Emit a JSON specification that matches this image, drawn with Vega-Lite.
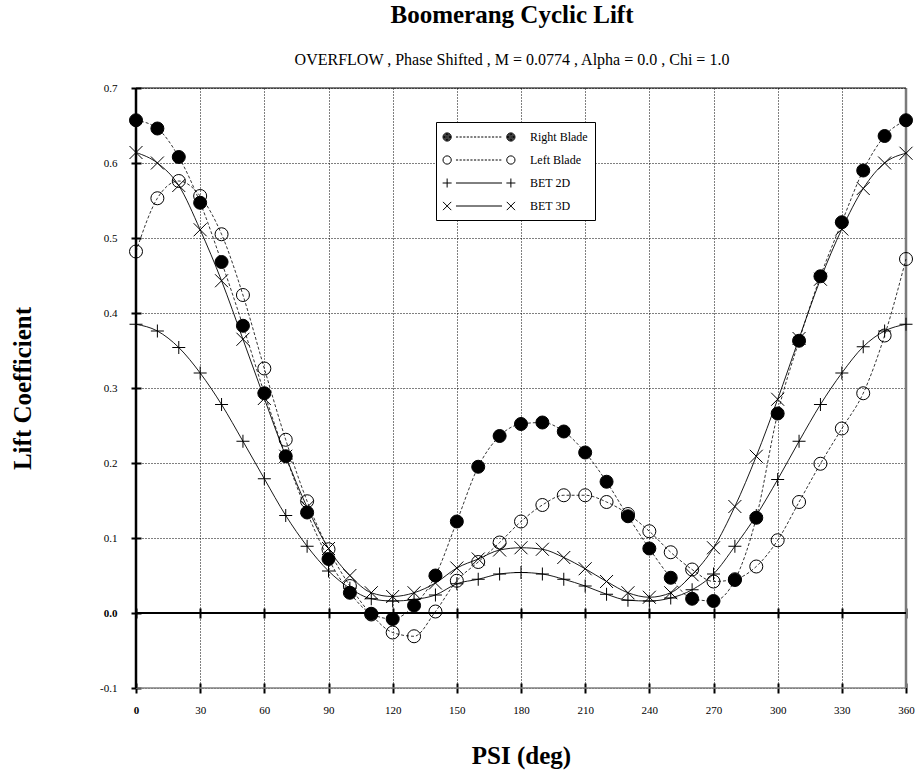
{
  "$schema": "https://vega.github.io/schema/vega-lite/v6.json",
  "width": 770,
  "height": 600,
  "autosize": {"type": "none"},
  "padding": {"left": 136, "top": 88, "right": 11, "bottom": 89},
  "background": "white",
  "config": {"view": {"stroke": null}, "font": "Liberation Serif"},
  "title": {
    "text": "Boomerang Cyclic Lift",
    "subtitle": "OVERFLOW , Phase Shifted , M = 0.0774 , Alpha = 0.0 , Chi = 1.0",
    "font": "Liberation Serif", "fontSize": 25, "fontWeight": "bold", "color": "black",
    "subtitleFont": "Liberation Serif", "subtitleFontSize": 16, "subtitleColor": "black",
    "subtitlePadding": 24, "offset": 14, "anchor": "middle", "dx": -9
  },
  "data": {"values": [
    {"psi": 0, "Right Blade": 0.657, "Left Blade": 0.482, "BET 2D": 0.385, "BET 3D": 0.614},
    {"psi": 10, "Right Blade": 0.646, "Left Blade": 0.553, "BET 2D": 0.376, "BET 3D": 0.600},
    {"psi": 20, "Right Blade": 0.608, "Left Blade": 0.576, "BET 2D": 0.354, "BET 3D": 0.570},
    {"psi": 30, "Right Blade": 0.547, "Left Blade": 0.556, "BET 2D": 0.320, "BET 3D": 0.511},
    {"psi": 40, "Right Blade": 0.468, "Left Blade": 0.505, "BET 2D": 0.278, "BET 3D": 0.443},
    {"psi": 50, "Right Blade": 0.383, "Left Blade": 0.424, "BET 2D": 0.229, "BET 3D": 0.365},
    {"psi": 60, "Right Blade": 0.293, "Left Blade": 0.326, "BET 2D": 0.179, "BET 3D": 0.286},
    {"psi": 70, "Right Blade": 0.209, "Left Blade": 0.231, "BET 2D": 0.130, "BET 3D": 0.209},
    {"psi": 80, "Right Blade": 0.134, "Left Blade": 0.149, "BET 2D": 0.089, "BET 3D": 0.141},
    {"psi": 90, "Right Blade": 0.072, "Left Blade": 0.085, "BET 2D": 0.056, "BET 3D": 0.086},
    {"psi": 100, "Right Blade": 0.027, "Left Blade": 0.036, "BET 2D": 0.033, "BET 3D": 0.050},
    {"psi": 110, "Right Blade": -0.001, "Left Blade": -0.002, "BET 2D": 0.019, "BET 3D": 0.027},
    {"psi": 120, "Right Blade": -0.008, "Left Blade": -0.026, "BET 2D": 0.016, "BET 3D": 0.022},
    {"psi": 130, "Right Blade": 0.010, "Left Blade": -0.031, "BET 2D": 0.018, "BET 3D": 0.027},
    {"psi": 140, "Right Blade": 0.050, "Left Blade": 0.002, "BET 2D": 0.024, "BET 3D": 0.040},
    {"psi": 150, "Right Blade": 0.122, "Left Blade": 0.043, "BET 2D": 0.039, "BET 3D": 0.060},
    {"psi": 160, "Right Blade": 0.195, "Left Blade": 0.068, "BET 2D": 0.045, "BET 3D": 0.072},
    {"psi": 170, "Right Blade": 0.236, "Left Blade": 0.094, "BET 2D": 0.052, "BET 3D": 0.084},
    {"psi": 180, "Right Blade": 0.252, "Left Blade": 0.122, "BET 2D": 0.054, "BET 3D": 0.087},
    {"psi": 190, "Right Blade": 0.254, "Left Blade": 0.144, "BET 2D": 0.052, "BET 3D": 0.085},
    {"psi": 200, "Right Blade": 0.242, "Left Blade": 0.157, "BET 2D": 0.045, "BET 3D": 0.074},
    {"psi": 210, "Right Blade": 0.214, "Left Blade": 0.157, "BET 2D": 0.036, "BET 3D": 0.059},
    {"psi": 220, "Right Blade": 0.175, "Left Blade": 0.148, "BET 2D": 0.025, "BET 3D": 0.042},
    {"psi": 230, "Right Blade": 0.129, "Left Blade": 0.132, "BET 2D": 0.017, "BET 3D": 0.027},
    {"psi": 240, "Right Blade": 0.086, "Left Blade": 0.109, "BET 2D": 0.016, "BET 3D": 0.021},
    {"psi": 250, "Right Blade": 0.047, "Left Blade": 0.081, "BET 2D": 0.020, "BET 3D": 0.027},
    {"psi": 260, "Right Blade": 0.019, "Left Blade": 0.058, "BET 2D": 0.031, "BET 3D": 0.051},
    {"psi": 270, "Right Blade": 0.016, "Left Blade": 0.042, "BET 2D": 0.052, "BET 3D": 0.087},
    {"psi": 280, "Right Blade": 0.044, "Left Blade": 0.045, "BET 2D": 0.089, "BET 3D": 0.142},
    {"psi": 290, "Right Blade": 0.127, "Left Blade": 0.062, "BET 2D": 0.130, "BET 3D": 0.209},
    {"psi": 300, "Right Blade": 0.266, "Left Blade": 0.097, "BET 2D": 0.178, "BET 3D": 0.285},
    {"psi": 310, "Right Blade": 0.363, "Left Blade": 0.148, "BET 2D": 0.229, "BET 3D": 0.366},
    {"psi": 320, "Right Blade": 0.449, "Left Blade": 0.199, "BET 2D": 0.278, "BET 3D": 0.445},
    {"psi": 330, "Right Blade": 0.521, "Left Blade": 0.246, "BET 2D": 0.320, "BET 3D": 0.512},
    {"psi": 340, "Right Blade": 0.590, "Left Blade": 0.293, "BET 2D": 0.355, "BET 3D": 0.566},
    {"psi": 350, "Right Blade": 0.636, "Left Blade": 0.370, "BET 2D": 0.376, "BET 3D": 0.600},
    {"psi": 360, "Right Blade": 0.657, "Left Blade": 0.472, "BET 2D": 0.385, "BET 3D": 0.613}
  ]},
  "transform": [{"fold": ["Right Blade", "Left Blade", "BET 2D", "BET 3D"], "as": ["series", "cl"]}],
  "resolve": {"axis": {"x": "independent", "y": "independent"}, "scale": {"shape": "independent"}},
  "layer": [
    {
      "data": {"values": [{}]},
      "mark": {"type": "rule", "color": "#808080", "strokeWidth": 1.5},
      "encoding": {"y": {"datum": -0.1, "type": "quantitative", "axis": null}}
    },
    {
      "data": {"values": [{}]},
      "mark": {"type": "rule", "color": "#7a7a7a", "strokeWidth": 2.5},
      "encoding": {"x": {"datum": 360, "type": "quantitative", "axis": null}}
    },
    {
      "data": {"values": [{}]},
      "mark": {"type": "rule", "color": "black", "strokeWidth": 1.2},
      "encoding": {"y": {"datum": 0.7, "type": "quantitative", "axis": null}}
    },
    {
      "data": {"values": [{}]},
      "mark": {"type": "rule", "color": "black", "strokeWidth": 2},
      "encoding": {"y": {"datum": 0, "type": "quantitative", "axis": null}}
    },
    {
      "data": {"values": [{}]},
      "mark": {"type": "rule", "color": "black", "strokeWidth": 2.5},
      "encoding": {"x": {"datum": 0, "type": "quantitative", "axis": null}}
    },
    {
      "transform": [{"filter": {"field": "series", "oneOf": ["Right Blade", "Left Blade"]}}],
      "mark": {"type": "line", "color": "black", "strokeWidth": 0.8, "strokeDash": [3, 2], "interpolate": "monotone"},
      "encoding": {
        "x": {"field": "psi", "type": "quantitative", "scale": {"domain": [0, 360], "nice": false, "zero": false}, "axis": null},
        "y": {"field": "cl", "type": "quantitative", "scale": {"domain": [-0.1, 0.7], "nice": false, "zero": false}, "axis": null},
        "detail": {"field": "series"}
      }
    },
    {
      "transform": [{"filter": {"field": "series", "oneOf": ["BET 2D", "BET 3D"]}}],
      "mark": {"type": "line", "color": "black", "strokeWidth": 0.9, "interpolate": "monotone"},
      "encoding": {
        "x": {"field": "psi", "type": "quantitative", "scale": {"domain": [0, 360], "nice": false, "zero": false},
          "axis": {"orient": "bottom", "offset": -80, "tickSize": 10, "tickWidth": 2, "tickColor": "black", "labels": false, "grid": false, "domain": false, "title": null,
            "values": [0, 30, 60, 90, 120, 150, 180, 210, 240, 270, 300, 330, 360]}},
        "y": {"field": "cl", "type": "quantitative", "axis": null},
        "detail": {"field": "series"}
      }
    },
    {
      "mark": {"type": "point", "size": 169, "strokeWidth": 1, "stroke": "black", "opacity": 1},
      "encoding": {
        "x": {"field": "psi", "type": "quantitative", "scale": {"domain": [0, 360], "nice": false, "zero": false},
          "axis": {"orient": "bottom", "offset": -5, "tickSize": 10, "tickWidth": 2, "tickColor": "black", "domain": false,
            "grid": true, "gridColor": "black", "gridDash": [1, 2], "gridWidth": 1,
            "values": [0, 30, 60, 90, 120, 150, 180, 210, 240, 270, 300, 330, 360],
            "labelFont": "Liberation Serif", "labelFontSize": 11, "labelColor": "black", "labelPadding": 11, "labelFlush": false, "labelOverlap": false,
            "labelFontWeight": {"condition": {"test": "datum.value === 0", "value": "bold"}, "value": "normal"},
            "title": "PSI (deg)", "titleFont": "Liberation Serif", "titleFontSize": 25, "titleFontWeight": "bold", "titleColor": "black", "titlePadding": 28}},
        "y": {"field": "cl", "type": "quantitative", "scale": {"domain": [-0.1, 0.7], "nice": false, "zero": false},
          "axis": {"orient": "left", "offset": -5, "tickSize": 10, "tickWidth": 2, "tickColor": "black", "domain": false,
            "grid": true, "gridColor": "black", "gridDash": [1, 2], "gridWidth": 1,
            "values": [-0.1, 0, 0.1, 0.2, 0.3, 0.4, 0.5, 0.6, 0.7],
            "labelExpr": "datum.value < 0 ? '-' + format(-datum.value, '.1f') : format(datum.value, '.1f')",
            "labelFont": "Liberation Serif", "labelFontSize": 11, "labelColor": "black", "labelPadding": 14, "labelFlush": false, "labelOverlap": false,
            "labelFontWeight": {"condition": {"test": "datum.value === 0", "value": "bold"}, "value": "normal"},
            "title": "Lift Coefficient", "titleFont": "Liberation Serif", "titleFontSize": 25, "titleFontWeight": "bold", "titleColor": "black", "titlePadding": 64}},
        "shape": {"field": "series", "type": "nominal",
          "scale": {"domain": ["Right Blade", "Left Blade", "BET 2D", "BET 3D"], "range": ["circle", "circle", "M-1,0H1M0,-1V1", "M-1,-1L1,1M-1,1L1,-1"]},
          "legend": null},
        "fill": {"condition": {"test": "datum.series === 'Right Blade'", "value": "black"}, "value": "transparent"}
      }
    },
    {
      "transform": [{"filter": "datum.psi < 0"}],
      "mark": {"type": "point", "size": 225, "strokeWidth": 1, "stroke": "black", "filled": false},
      "encoding": {
        "x": {"field": "psi", "type": "quantitative", "axis": null},
        "y": {"field": "cl", "type": "quantitative", "axis": null},
        "shape": {"field": "series", "type": "nominal",
          "scale": {"domain": ["Right Blade", "Left Blade", "BET 2D", "BET 3D"],
            "range": [
              "M-4.8,0a0.55,0.55 0 1,0 1.1,0a0.55,0.55 0 1,0 -1.1,0M-4.7,0a0.45,0.45 0 1,0 0.9,0a0.45,0.45 0 1,0 -0.9,0M-4.6,0a0.35,0.35 0 1,0 0.7,0a0.35,0.35 0 1,0 -0.7,0M-4.5,0a0.25,0.25 0 1,0 0.5,0a0.25,0.25 0 1,0 -0.5,0M-4.4,0a0.15,0.15 0 1,0 0.3,0a0.15,0.15 0 1,0 -0.3,0M-4.32,0h0.14M3.7,0a0.55,0.55 0 1,0 1.1,0a0.55,0.55 0 1,0 -1.1,0M3.8,0a0.45,0.45 0 1,0 0.9,0a0.45,0.45 0 1,0 -0.9,0M3.9,0a0.35,0.35 0 1,0 0.7,0a0.35,0.35 0 1,0 -0.7,0M4,0a0.25,0.25 0 1,0 0.5,0a0.25,0.25 0 1,0 -0.5,0M4.1,0a0.15,0.15 0 1,0 0.3,0a0.15,0.15 0 1,0 -0.3,0M4.18,0h0.14M-3.07,0h0.29M-2.59,0h0.29M-2.11,0h0.29M-1.63,0h0.29M-1.15,0h0.29M-0.67,0h0.29M-0.19,0h0.29M0.29,0h0.29M0.77,0h0.29M1.25,0h0.29M1.73,0h0.29M2.21,0h0.29M2.69,0h0.29",
              "M-4.8,0a0.55,0.55 0 1,0 1.1,0a0.55,0.55 0 1,0 -1.1,0M3.7,0a0.55,0.55 0 1,0 1.1,0a0.55,0.55 0 1,0 -1.1,0M-3.07,0h0.29M-2.59,0h0.29M-2.11,0h0.29M-1.63,0h0.29M-1.15,0h0.29M-0.67,0h0.29M-0.19,0h0.29M0.29,0h0.29M0.77,0h0.29M1.25,0h0.29M1.73,0h0.29M2.21,0h0.29M2.69,0h0.29",
              "M-4.85,0H-3.65M-4.25,-0.6V0.6M3.65,0H4.85M4.25,-0.6V0.6M-3.07,0H3.07",
              "M-4.8,-0.55L-3.7,0.55M-4.8,0.55L-3.7,-0.55M3.7,-0.55L4.8,0.55M3.7,0.55L4.8,-0.55M-3.07,0H3.07"
            ]},
          "legend": {"title": null, "orient": "none", "legendX": 300, "legendY": 34, "padding": 7,
            "fillColor": "white", "strokeColor": "black",
            "symbolSize": 225, "symbolOffset": 28, "labelOffset": 43, "rowPadding": 8,
            "symbolOpacity": 1, "symbolStrokeWidth": 1, "symbolStrokeColor": "black", "symbolFillColor": "transparent",
            "labelFont": "Liberation Serif", "labelFontSize": 12, "labelColor": "black"}}
      }
    }
  ]
}
